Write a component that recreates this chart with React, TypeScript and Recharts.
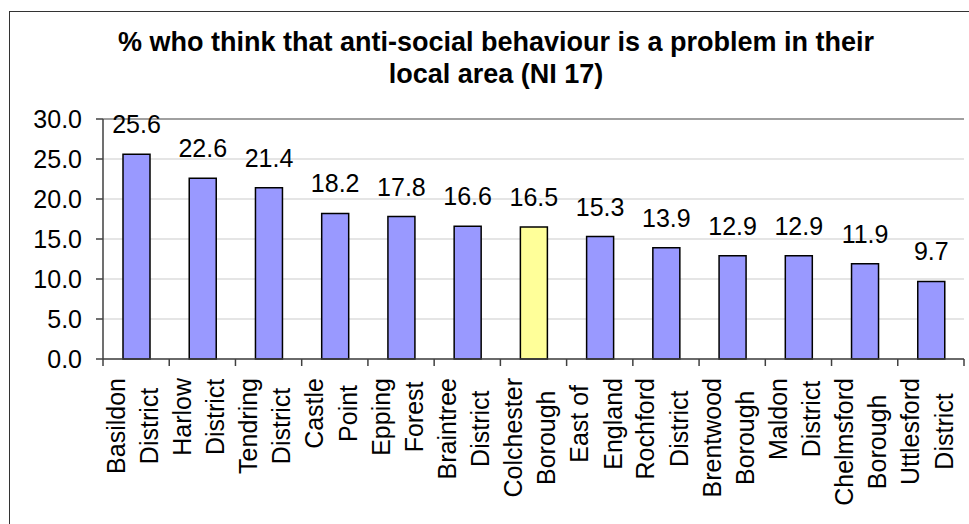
import React from "react";
import { BarChart, Bar, XAxis, YAxis, CartesianGrid, Cell, LabelList, ReferenceLine } from "recharts";

const categories = [
  "Basildon District",
  "Harlow District",
  "Tendring District",
  "Castle Point",
  "Epping Forest",
  "Braintree District",
  "Colchester Borough",
  "East of England",
  "Rochford District",
  "Brentwood Borough",
  "Maldon District",
  "Chelmsford Borough",
  "Uttlesford District",
];
const values = [25.6, 22.6, 21.4, 18.2, 17.8, 16.6, 16.5, 15.3, 13.9, 12.9, 12.9, 11.9, 9.7];
const highlighted = "Colchester Borough";
const yTicks = [0, 5, 10, 15, 20, 25, 30];
const titleLines = ["% who think that anti-social behaviour is a problem in their", "local area (NI 17)"];

const W = 969;
const H = 524;
const MARGIN = { top: 119, right: 5, left: 0, bottom: 5 };
const Y_AXIS_W = 103;
const X_AXIS_H = 160;
const STEP = (W - MARGIN.left - MARGIN.right - Y_AXIS_W) / categories.length;
const FONT = "'Liberation Sans', Arial, sans-serif";
const AXIS = "#404040";
const LINE_DX = [-11.5, 21.8];

const data = categories.map((name, i) => ({ name, value: values[i] }));

// split at the last space: "East of England" -> ["East of", "England"]
const splitLabel = (s: string) => {
  const k = s.lastIndexOf(" ");
  return k < 0 ? [s] : [s.slice(0, k), s.slice(k + 1)];
};

let ctx: CanvasRenderingContext2D | null = null;
const measure = (s: string) => {
  if (!ctx) {
    ctx = document.createElement("canvas").getContext("2d");
    if (ctx) ctx.font = `25px ${FONT}`;
  }
  return ctx ? ctx.measureText(s).width : s.length * 13;
};

const CategoryTick = ({ x, y, payload, index }: any) => {
  const lines = splitLabel(String(payload.value));
  const maxW = Math.max(...lines.map(measure));
  const cy = y + 19 + maxW / 2;
  const left = x - STEP / 2;
  return (
    <g>
      <line x1={left} x2={left} y1={y} y2={y + 7} stroke={AXIS} strokeWidth={1.5} />
      {index === categories.length - 1 && (
        <line x1={x + STEP / 2} x2={x + STEP / 2} y1={y} y2={y + 7} stroke={AXIS} strokeWidth={1.5} />
      )}
      {lines.map((l, i) => (
        <text
          key={i}
          transform={`translate(${x + LINE_DX[i]},${cy}) rotate(-90)`}
          textAnchor="middle"
          fontSize={25}
          fill="#000"
        >
          {l}
        </text>
      ))}
    </g>
  );
};

// value ticks sit 21px left of the axis line
const ValueTick = ({ y, payload }: any) => (
  <text x={MARGIN.left + Y_AXIS_W - 21} y={y} dy="0.355em" textAnchor="end" fontSize={25} fill="#000">
    {Number(payload.value).toFixed(1)}
  </text>
);

export default function App() {
  return (
    <div
      style={{
        position: "absolute",
        left: 0,
        top: 0,
        width: W,
        height: H,
        overflow: "hidden",
        background: "#fff",
        fontFamily: FONT,
      }}
    >
      <div
        style={{
          position: "absolute",
          left: 9,
          top: 11,
          width: 1100,
          height: 700,
          border: "1.5px solid #333",
        }}
      />
      <div
        style={{
          position: "absolute",
          left: 0,
          top: 27,
          width: 992,
          textAlign: "center",
          fontWeight: "bold",
          fontSize: 27,
          lineHeight: "31.5px",
          color: "#000",
        }}
      >
        {titleLines.map((t) => (
          <div key={t}>{t}</div>
        ))}
      </div>
      <BarChart width={W} height={H} data={data} margin={MARGIN} style={{ position: "absolute", left: 0, top: 0 }}>
        <CartesianGrid vertical={false} stroke="#cccccc" strokeWidth={1.2} />
        <ReferenceLine y={30} stroke="#888888" strokeWidth={1.5} />
        <XAxis
          dataKey="name"
          interval={0}
          height={X_AXIS_H}
          tickLine={false}
          tickSize={0}
          tickMargin={0}
          axisLine={{ stroke: AXIS, strokeWidth: 1.5 }}
          tick={(props: any) => <CategoryTick {...props} />}
        />
        <YAxis
          width={Y_AXIS_W}
          domain={[0, 30]}
          ticks={yTicks}
          interval={0}
          tickSize={7}
          tick={(props: any) => <ValueTick {...props} />}
          tickLine={{ stroke: AXIS, strokeWidth: 1.5 }}
          axisLine={{ stroke: AXIS, strokeWidth: 1.5 }}
        />
        <YAxis
          yAxisId="frame"
          orientation="right"
          width={0}
          domain={[0, 30]}
          tick={false}
          tickLine={false}
          axisLine={{ stroke: "#888888", strokeWidth: 1.5 }}
        />
        <Bar dataKey="value" barSize={27} stroke="#000" strokeWidth={1.5} isAnimationActive={false}>
          {data.map((d) => (
            <Cell key={d.name} fill={d.name === highlighted ? "#ffff99" : "#9999ff"} />
          ))}
          <LabelList
            dataKey="value"
            position="top"
            offset={21}
            fontSize={25}
            fill="#000"
            formatter={(v: any) => Number(v).toFixed(1)}
          />
        </Bar>
      </BarChart>
    </div>
  );
}
